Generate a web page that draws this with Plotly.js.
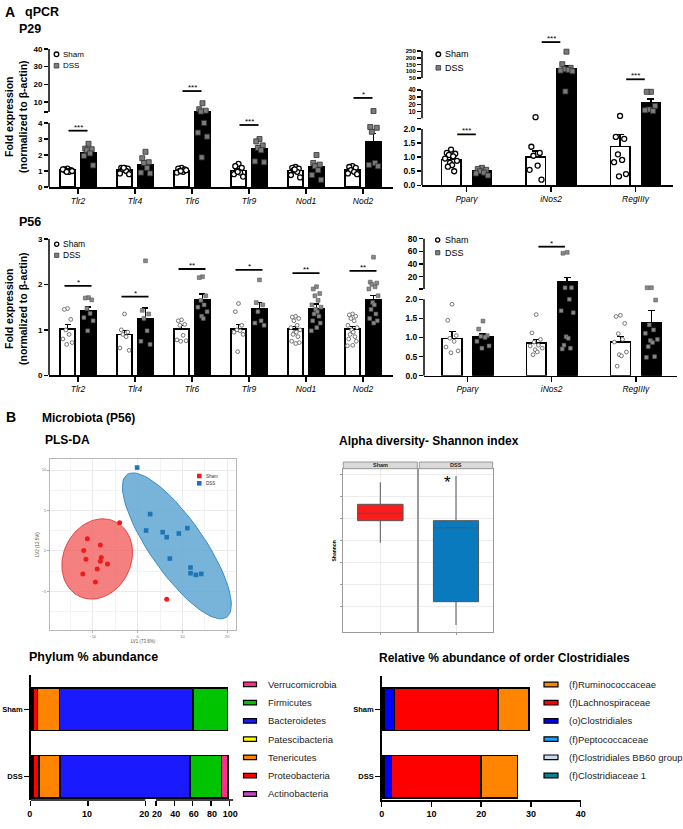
<!DOCTYPE html>
<html><head><meta charset="utf-8">
<script src="https://cdn.plot.ly/plotly-3.0.1.min.js"></script>
<style>html,body{margin:0;padding:0;background:#fff}#chart{width:683px;height:829px}</style>
</head><body><div id="chart"></div>
<script>
// ================= DATA =================
const groups = ['Sham', 'DSS'];
const genesTlr = ['Tlr2', 'Tlr4', 'Tlr6', 'Tlr9', 'Nod1', 'Nod2'];
const genesOther = ['Pparγ', 'iNos2', 'RegIIIγ'];

// P29 - Tlr / Nod
const p29L_shamMean = [1.05, 1.05, 1.04, 1.02, 1.03, 1.05];
const p29L_shamSem  = [0.04, 0.06, 0.03, 0.09, 0.08, 0.07];
const p29L_dssMean  = [2.15, 1.42, 4.5, 2.4, 1.25, 2.85];
const p29L_dssSem   = [0.17, 0.18, 0.85, 0.2, 0.2, 0.48];
const p29L_shamPts = [[1.15,1.1,1.05,1.0,0.95,1.1,1.0,0.95],[1.2,1.2,1.15,1.1,1.0,0.85,0.8,1.2],[1.2,1.15,1.1,1.0,0.95,0.9,1.05,1.0],[1.45,1.3,1.2,1.0,0.9,0.8,0.65,0.95],[1.25,1.2,1.15,1.05,0.95,0.75,0.6,1.1],[1.3,1.25,1.2,1.05,0.95,0.85,0.8]];
const p29L_dssPts  = [[2.7,2.4,2.36,2.3,2.1,1.95,1.35],[2.2,1.8,1.55,1.5,1.2,0.9,0.85],[9.3,5.9,5.1,4.6,4.0,3.4,3.15,1.85],[3.0,2.85,2.6,2.45,2.3,1.6,1.55],[2.0,1.5,1.4,1.3,1.05,0.75,0.45],[4.9,3.75,3.7,3.45,1.5,1.38,1.3]];

// P29 - Ppar / iNos2 / RegIII
const p29R_shamMean = [0.92, 1.0, 1.37];
const p29R_shamSem  = [0.07, 0.22, 0.43];
const p29R_dssMean  = [0.52, 118, 22];
const p29R_dssSem   = [0.03, 22, 5.5];
const p29R_shamPts = [[1.27,1.15,1.12,1.08,1.03,0.95,0.87,0.8,0.72,0.66,0.5],[2.5,1.37,1.15,1.05,0.7,0.55,0.2],[4.1,1.72,1.65,1.1,0.9,0.82,0.4,0.32]];
const p29R_dssPts  = [[0.62,0.58,0.55,0.5,0.45,0.42,0.35],[245,152,125,115,110,105,100,38],[37.5,37.5,18,13,11,12]];

// P56 - Tlr / Nod
const p56L_shamMean = [1.02, 0.9, 1.02, 1.02, 1.02, 1.02];
const p56L_shamSem  = [0.1, 0.09, 0.07, 0.1, 0.05, 0.05];
const p56L_dssMean  = [1.42, 1.25, 1.67, 1.47, 1.46, 1.66];
const p56L_dssSem   = [0.08, 0.23, 0.12, 0.13, 0.11, 0.1];
const p56L_shamPts = [[1.47,1.45,1.23,1.0,0.9,0.8,0.72,0.68],[1.35,1.0,0.95,0.9,0.85,0.6,0.55],[1.22,1.2,1.12,1.1,0.88,0.78,0.76,0.75],[1.58,1.4,1.1,1.0,0.98,0.95,0.9,0.52],[1.3,1.28,1.25,1.2,1.1,1.05,1.0,0.95,0.95,0.9,0.85,0.75,0.72,0.7],[1.35,1.33,1.3,1.25,1.2,1.1,1.05,1.0,0.95,0.9,0.85,0.8,0.75,0.66,0.65]];
const p56L_dssPts  = [[1.71,1.7,1.66,1.47,1.36,1.27,1.2,0.98],[2.52,1.43,1.35,1.25,0.98,0.75,0.68],[2.17,2.15,1.75,1.65,1.55,1.5,1.4,1.3,1.25],[2.1,1.6,1.55,1.4,1.2,1.15,1.1],[1.95,1.9,1.8,1.75,1.65,1.55,1.5,1.45,1.4,1.35,1.3,1.2,1.15,1.05,0.98],[2.6,2.05,2.03,2.0,1.95,1.9,1.75,1.6,1.55,1.45,1.35,1.25,1.2,1.15]];

// P56 - Ppar / iNos2 / RegIII
const p56R_shamMean = [0.98, 0.86, 0.88];
const p56R_shamSem  = [0.18, 0.09, 0.15];
const p56R_dssMean  = [1.02, 12.1, 1.38];
const p56R_dssSem   = [0.07, 7.0, 0.33];
const p56R_shamPts = [[1.87,1.45,1.05,0.98,0.9,0.75,0.65,0.6],[1.6,1.12,0.95,0.88,0.8,0.78,0.72,0.68,0.62,0.55],[1.58,1.55,1.37,1.1,0.95,0.88,0.62,0.55,0.52,0.25]];
const p56R_dssPts  = [[1.43,1.22,1.05,1.03,1.0,0.9,0.78,0.72],[58.5,57,2.6,2.5,2.0,1.7,1.65,1.02,0.98,0.8,0.72,0.7],[2.6,2.55,1.98,1.33,1.2,1.11,0.95,0.92,0.87,0.76,0.5,0.48]];

// significance marks
const sigP29L = {idx:[0,2,3,5], seg:[0,1,0,1], val:[3.52,16.2,3.875,12.3], txt:['***','***','***','*']};
const sigP29R = {idx:[0,1,2], seg:[0,2,2], val:[1.81,316,40.4], txt:['***','***','***']};
const sigP56L = {idx:[0,1,2,3,4,5], seg:[0,0,0,0,0,0], val:[1.97,1.73,2.34,2.32,2.25,2.3], txt:['*','*','**','*','**','**']};
const sigP56R = {idx:[1], seg:[1], val:[67.4], txt:['*']};

// PLS-DA scores
const plsShamX = [-11.2,-12.0,-11.5,-12.2,-8.3,-8.1,-8.3,-6.7,-9.0,-9.4,-4.0,6.5];
const plsShamY = [1.49,0.04,-1.03,-2.85,0.74,-0.83,-1.28,-1.61,-2.23,-3.84,3.47,-5.99];
const plsDssX  = [-0.1,2.8,1.9,5.6,6.5,9.2,11.1,7.2,11.8,11.8,13.0,14.2];
const plsDssY  = [10.3,4.55,2.52,2.31,1.69,2.15,2.81,-0.95,-2.06,-2.77,-2.97,-2.85];
const plsXTicks = [-10, 0, 10, 20];
const plsYTicks = [-5, 0, 5, 10];

// Alpha diversity (Shannon) box statistics: [Sham, DSS]
const shannonLower  = [3.455, 1.584];
const shannonQ1     = [3.955, 2.114];
const shannonMedian = [4.123, 3.795];
const shannonQ3     = [4.327, 3.955];
const shannonUpper  = [4.827, 4.97];

// Phylum % abundance
const phylumNames  = ['Actinobacteria','Proteobacteria','Tenericutes','Patescibacteria','Bacteroidetes','Firmicutes','Verrucomicrobia'];
const phylumColors = ['#c846c8','#ff0000','#ff8400','#ffff00','#1a1aff','#00c400','#ff2d8c'];
const phylumSham   = [0.45, 0.75, 3.8, 0.05, 55.6, 37.2, 0.1];
const phylumDSS    = [0.4, 1.0, 3.7, 0.05, 51.95, 34.5, 6.9];

// Clostridiales % abundance
const clostNames  = ['(f)Clostridiaceae 1','(f)Clostridiales BB60 group','(f)Peptococcaceae','(o)Clostridiales','(f)Lachnospiraceae','(f)Ruminococcaceae'];
const clostColors = ['#0a7f8f','#c6dcf2','#1aa0ff','#0000ff','#ff0000','#ff8400'];
const clostSham   = [0.05, 0.3, 0.1, 2.1, 20.85, 6.2];
const clostDSS    = [0.05, 0.3, 0.1, 1.55, 17.9, 7.36];

// ================= BUILD =================
const W = 683, H = 829;
const FONT = 'Arial, "Liberation Sans", sans-serif';
const dx = (a, b) => [a / W, b / W];
const dy = (top, bot) => [1 - bot / H, 1 - top / H];
const lin = (v1, p1, v2, p2) => { const s = (v2 - v1) / (p2 - p1); return p => v1 + (p - p1) * s; };
const ak = id => id.replace(/^x/, 'xaxis').replace(/^y/, 'yaxis');
const traces = [], shapes = [], ann = [];
const layout = {
  width: W, height: H, margin: {l:0, r:0, t:0, b:0}, showlegend: false,
  paper_bgcolor: '#fff', plot_bgcolor: 'rgba(0,0,0,0)', barmode: 'stack',
  font: {family: FONT, color: '#000'}
};
function txt(s, x, y, font, o) {
  ann.push(Object.assign({text: s, xref: 'paper', yref: 'paper', x: x / W, y: 1 - y / H,
    xanchor: 'left', yanchor: 'middle', showarrow: false, font: Object.assign({family: FONT, color: '#000'}, font)}, o || {}));
}
const JIT = [0,-0.6,0.6,-0.3,0.3,-0.85,0.85,-0.15,0.15,-0.45,0.45,-0.7,0.7,0.05,-0.95,0.95,-0.25,0.25];

function buildQ(c) {
  const fx = lin(0, c.xCal[0], 1, c.xCal[1]);
  layout[ak(c.xa)] = {domain: dx(c.xDom[0], c.xDom[1]), range: [fx(c.xDom[0]), fx(c.xDom[1])], anchor: c.ys[0],
    showline: true, linecolor: '#000', linewidth: 1.5, ticks: 'outside', ticklen: 5, tickwidth: 1.5, tickcolor: '#000',
    tickvals: c.cats.map((_, i) => i), ticktext: c.cats.map(s => '<i>' + s + '</i>'),
    tickfont: {family: FONT, size: 8.5, color: '#000'}, showgrid: false, zeroline: false, fixedrange: true};
  const seg = c.segs.map(s => { const f = lin(s.cal[0], s.cal[1], s.cal[2], s.cal[3]); return {r0: f(s.bot), r1: f(s.top)}; });
  c.segs.forEach((s, k) => {
    const r0 = seg[k].r0, r1 = seg[k].r1;
    const lo = k === 0 ? -Infinity : seg[k - 1].r1;
    const base = k === 0 ? 0 : r0;
    layout[ak(c.ys[k])] = {domain: dy(s.top, s.bot), range: [r0, r1], anchor: c.xa, showline: false,
      ticks: 'outside', ticklen: 4, tickwidth: 1.5, tickcolor: '#000', tickvals: s.tv, ticktext: s.tt,
      tickfont: {family: FONT, size: s.fs, color: '#000', weight: 'bold'}, showgrid: false, zeroline: false, fixedrange: true};
    shapes.push({type: 'line', xref: 'paper', yref: c.ys[k], x0: c.xDom[0] / W, x1: c.xDom[0] / W, y0: s.vis[0], y1: s.vis[1],
      line: {color: '#000', width: 1.5}});
    [[c.sham, -1, '#ffffff'], [c.dss, 1, '#000000']].forEach(([g, sg, col]) => {
      const show = g.mean.map(m => k === 0 || m > lo);
      traces.push({type: 'bar', xaxis: c.xa, yaxis: c.ys[k],
        x: c.cats.map((_, i) => i + sg * c.off), y: g.mean.map((m, i) => show[i] ? m - base : null),
        base: c.cats.map(() => base), width: c.bw,
        marker: {color: col, line: {color: '#000', width: 1.5}},
        error_y: {type: 'data', symmetric: false, array: g.sem.map((e, i) => (show[i] && g.mean[i] <= r1) ? e : NaN),
          arrayminus: g.sem.map(() => 0), color: '#000', thickness: 1.4, width: c.ew},
        hoverinfo: 'skip'});
    });
  });
  [[c.sham.pts, -1, c.shamM], [c.dss.pts, 1, c.dssM]].forEach(([pts, sg, mk]) => {
    const xs = c.segs.map(() => []), yv = c.segs.map(() => []);
    pts.forEach((arr, i) => arr.forEach((v, j) => {
      let k = seg.findIndex(si => v <= si.r1); if (k < 0) k = seg.length - 1;
      xs[k].push(i + sg * c.off + JIT[j % JIT.length] * c.bw * 0.36); yv[k].push(v);
    }));
    c.segs.forEach((s, k) => {
      if (xs[k].length) traces.push({type: 'scatter', mode: 'markers', xaxis: c.xa, yaxis: c.ys[k], x: xs[k], y: yv[k],
        marker: mk, cliponaxis: false, hoverinfo: 'skip'});
    });
  });
  c.sig.idx.forEach((ix, j) => {
    const ya = c.ys[c.sig.seg[j]], v = c.sig.val[j];
    shapes.push({type: 'line', xref: c.xa, yref: ya, x0: ix - c.sigHalf, x1: ix + c.sigHalf, y0: v, y1: v,
      line: {color: '#000', width: 1.8}});
    ann.push({text: c.sig.txt[j], xref: c.xa, yref: ya, x: ix, y: v, xanchor: 'center', yanchor: 'bottom', yshift: -3,
      showarrow: false, font: {family: FONT, size: 8, color: '#000'}});
  });
  // legend keys
  const L = c.leg;
  shapes.push({type: 'circle', xref: 'paper', yref: 'paper', x0: (L.cx - L.d / 2) / W, x1: (L.cx + L.d / 2) / W,
    y0: 1 - (L.cy1 + L.d / 2) / H, y1: 1 - (L.cy1 - L.d / 2) / H, fillcolor: '#fff', line: {color: '#000', width: 1.3}});
  shapes.push({type: 'rect', xref: 'paper', yref: 'paper', x0: (L.cx - L.d / 2) / W, x1: (L.cx + L.d / 2) / W,
    y0: 1 - (L.cy2 + L.d / 2) / H, y1: 1 - (L.cy2 - L.d / 2) / H, fillcolor: '#808080', line: {color: '#333', width: 0.8}});
  txt(groups[0], L.tx, L.cy1, {size: L.fs});
  txt(groups[1], L.tx, L.cy2, {size: L.fs});
}

const mk29s = {symbol: 'circle', size: 5, color: '#fff', line: {color: '#000', width: 1.3}};
const mk29d = {symbol: 'square', size: 5, color: '#7a7a7a', line: {color: '#333', width: 0.8}};
const mk56s = {symbol: 'circle', size: 3.8, color: '#fff', line: {color: '#555', width: 0.8}};
const mk56d = {symbol: 'square', size: 3.8, color: '#8a8a8a', line: {color: '#555', width: 0.6}};

buildQ({xa: 'x', ys: ['y', 'y2'], cats: genesTlr, xDom: [49, 393], xCal: [78, 135], off: 0.184, bw: 0.263, ew: 3,
  segs: [{top: 116, bot: 187, cal: [0, 187, 4, 123], vis: [0, 4], tv: [0, 1, 2, 3, 4], tt: ['0', '1', '2', '3', '4'], fs: 8},
         {top: 45, bot: 116, cal: [10, 102, 40, 49], vis: [4.3, 40], tv: [4.3, 10, 20, 30, 40], tt: ['', '10', '20', '30', '40'], fs: 8}],
  sham: {mean: p29L_shamMean, sem: p29L_shamSem, pts: p29L_shamPts}, dss: {mean: p29L_dssMean, sem: p29L_dssSem, pts: p29L_dssPts},
  shamM: mk29s, dssM: mk29d, sig: sigP29L, sigHalf: 0.167,
  leg: {cx: 56.5, cy1: 54.3, cy2: 65.7, tx: 60.5, d: 4.6, fs: 8}});

buildQ({xa: 'x2', ys: ['y3', 'y4', 'y5'], cats: genesOther, xDom: [422, 673], xCal: [466.5, 551], off: 0.183, bw: 0.23, ew: 3.5,
  segs: [{top: 124, bot: 185.3, cal: [0, 185.3, 2, 129], vis: [0, 2], tv: [0, 0.5, 1, 1.5, 2], tt: ['0.0', '0.5', '1.0', '1.5', '2.0'], fs: 8.5},
         {top: 84, bot: 124, cal: [10, 111.7, 40, 90], vis: [0.87, 40], tv: [0.87, 10, 20, 30, 40], tt: ['', '10', '20', '30', '40'], fs: 6.5},
         {top: 36, bot: 84, cal: [50, 78, 250, 51], vis: [50, 250], tv: [50, 100, 150, 200, 250], tt: ['50', '100', '150', '200', '250'], fs: 6}],
  sham: {mean: p29R_shamMean, sem: p29R_shamSem, pts: p29R_shamPts}, dss: {mean: p29R_dssMean, sem: p29R_dssSem, pts: p29R_dssPts},
  shamM: mk29s, dssM: mk29d, sig: sigP29R, sigHalf: 0.11,
  leg: {cx: 438.3, cy1: 54.3, cy2: 67.8, tx: 442.5, d: 4.6, fs: 9}});

buildQ({xa: 'x3', ys: ['y6'], cats: genesTlr, xDom: [49, 393], xCal: [78, 135], off: 0.184, bw: 0.263, ew: 3,
  segs: [{top: 232, bot: 375.3, cal: [0, 375.3, 3, 239], vis: [0, 3], tv: [0, 1, 2, 3], tt: ['0', '1', '2', '3'], fs: 8}],
  sham: {mean: p56L_shamMean, sem: p56L_shamSem, pts: p56L_shamPts}, dss: {mean: p56L_dssMean, sem: p56L_dssSem, pts: p56L_dssPts},
  shamM: mk56s, dssM: mk56d, sig: sigP56L, sigHalf: 0.237,
  leg: {cx: 56.7, cy1: 244.3, cy2: 255.3, tx: 60.8, d: 4.2, fs: 8.5}});

buildQ({xa: 'x4', ys: ['y7', 'y8'], cats: genesOther, xDom: [424, 677], xCal: [467.5, 551.7], off: 0.184, bw: 0.235, ew: 3.5,
  segs: [{top: 294, bot: 375.7, cal: [0, 375.7, 2, 299.3], vis: [0, 2], tv: [0, 0.5, 1, 1.5, 2], tt: ['0.0', '0.5', '1.0', '1.5', '2.0'], fs: 8.5},
         {top: 232, bot: 294, cal: [20, 276.7, 80, 238.7], vis: [0.6, 80], tv: [0.6, 20, 40, 60, 80], tt: ['', '20', '40', '60', '80'], fs: 8.5}],
  sham: {mean: p56R_shamMean, sem: p56R_shamSem, pts: p56R_shamPts}, dss: {mean: p56R_dssMean, sem: p56R_dssSem, pts: p56R_dssPts},
  shamM: mk56s, dssM: mk56d, sig: sigP56R, sigHalf: 0.157,
  leg: {cx: 437.7, cy1: 240, cy2: 252.7, tx: 442.5, d: 4.2, fs: 9}});

// y titles
[117, 309].forEach(yc => {
  ann.push({text: '<b>Fold expression</b><br><b>(normalized to β-actin)</b>', xref: 'paper', yref: 'paper', x: 16 / W, y: 1 - yc / H,
    xanchor: 'center', yanchor: 'middle', textangle: -90, showarrow: false, font: {family: FONT, size: 10.5, color: '#000'}});
});

// ---------- PLS-DA ----------
(function () {
  const fx = lin(-10, 92.7, 20, 227.3), fy = lin(10, 470, -5, 591.3);
  const ax = {showline: true, mirror: true, linecolor: '#b8b8b8', linewidth: 1, showgrid: true, gridcolor: '#ebebeb', zeroline: false,
    ticks: 'outside', ticklen: 2, tickcolor: '#aaa', tickfont: {family: FONT, size: 4, color: '#777'}, fixedrange: true};
  layout.xaxis5 = Object.assign({}, ax, {domain: dx(50, 236), range: [fx(50), fx(236)], anchor: 'y9', tickvals: plsXTicks,
    minor: {tick0: 0, dtick: 5, showgrid: true, gridcolor: '#f3f3f3'},
    title: {text: 'LV1 (73.6%)', font: {family: FONT, size: 4.5, color: '#555'}, standoff: 2}});
  layout.yaxis9 = Object.assign({}, ax, {domain: dy(459, 630), range: [fy(630), fy(459)], anchor: 'x5', tickvals: plsYTicks,
    minor: {tick0: 0, dtick: 2.5, showgrid: true, gridcolor: '#f3f3f3'},
    title: {text: 'LV2 (12.5%)', font: {family: FONT, size: 4.5, color: '#555'}, standoff: 2}});
  const ellipses = [
    {cx: -9.0, cy: -1.0, ux: 7.85, uy: 0.45, vx: 0.55, vy: 4.94, fill: 'rgba(242,96,96,0.8)', line: '#e84545'},
    {cx: 8.76, cy: 0.62, ux: 11.1, uy: -8.82, vx: -4.91, vy: -1.92, fill: 'rgba(96,166,212,0.85)', line: '#3b8dc2'}
  ];
  ellipses.forEach(e => {
    const xs = [], ys = [];
    for (let t = 0; t <= 72; t++) { const a = t / 72 * 2 * Math.PI; xs.push(e.cx + e.ux * Math.cos(a) + e.vx * Math.sin(a)); ys.push(e.cy + e.uy * Math.cos(a) + e.vy * Math.sin(a)); }
    traces.push({type: 'scatter', mode: 'lines', xaxis: 'x5', yaxis: 'y9', x: xs, y: ys, fill: 'toself', fillcolor: e.fill,
      line: {color: e.line, width: 1}, hoverinfo: 'skip'});
  });
  traces.push({type: 'scatter', mode: 'markers', xaxis: 'x5', yaxis: 'y9', x: plsShamX, y: plsShamY,
    marker: {symbol: 'circle', size: 5, color: '#ee1c1c'}, hoverinfo: 'skip'});
  traces.push({type: 'scatter', mode: 'markers', xaxis: 'x5', yaxis: 'y9', x: plsDssX, y: plsDssY,
    marker: {symbol: 'square', size: 4.6, color: '#1b76b5'}, hoverinfo: 'skip'});
  shapes.push({type: 'rect', xref: 'paper', yref: 'paper', x0: 197 / W, x1: 201.6 / W, y0: 1 - 478.3 / H, y1: 1 - 473.7 / H, fillcolor: '#ee1c1c', line: {width: 0}});
  shapes.push({type: 'rect', xref: 'paper', yref: 'paper', x0: 197 / W, x1: 201.6 / W, y0: 1 - 485.6 / H, y1: 1 - 481 / H, fillcolor: '#1b76b5', line: {width: 0}});
  txt(groups[0], 203.5, 476, {size: 4.5, color: '#333'});
  txt(groups[1], 203.5, 483.3, {size: 4.5, color: '#333'});
})();

// ---------- Alpha diversity ----------
(function () {
  const fy = lin(2.0, 606.7, 5.0, 474.7);
  const yr = [fy(632.3), fy(468.7)];
  const common = {showline: true, mirror: true, linecolor: '#9a9a9a', linewidth: 1, zeroline: false, fixedrange: true,
    showgrid: true, gridcolor: '#ececec'};
  const fills = ['#fb1c1c', '#0a7abf'];
  const doms = [[343.3, 417.3], [419.3, 492.7]];
  const xas = ['x6', 'x7'], yas = ['y10', 'y11'];
  groups.forEach((g, i) => {
    layout[ak(xas[i])] = Object.assign({}, common, {domain: dx(doms[i][0], doms[i][1]), range: [-1, 1], anchor: yas[i],
      tickvals: [0], ticktext: [''], ticks: 'outside', ticklen: 2, tickcolor: '#999'});
    layout[ak(yas[i])] = Object.assign({}, common, {domain: dy(468.7, 632.3), range: yr, anchor: xas[i],
      tickvals: [2, 2.5, 3, 3.5, 4, 4.5, 5], showticklabels: false, ticks: i === 0 ? 'outside' : '', ticklen: 2, tickcolor: '#999'});
    traces.push({type: 'box', xaxis: xas[i], yaxis: yas[i], x: [0], q1: [shannonQ1[i]], median: [shannonMedian[i]], q3: [shannonQ3[i]],
      lowerfence: [shannonLower[i]], upperfence: [shannonUpper[i]], width: 1.23, fillcolor: fills[i],
      line: {color: '#555', width: 1}, whiskerwidth: 0, boxpoints: false, hoverinfo: 'skip'});
    shapes.push({type: 'rect', xref: 'paper', yref: 'paper', x0: doms[i][0] / W, x1: doms[i][1] / W, y0: 1 - 468.7 / H, y1: 1 - 462 / H,
      fillcolor: '#d9d9d9', line: {color: '#9a9a9a', width: 1}});
    ann.push({text: '<b>' + g + '</b>', xref: 'paper', yref: 'paper', x: (doms[i][0] + doms[i][1]) / 2 / W, y: 1 - 465.4 / H,
      xanchor: 'center', yanchor: 'middle', showarrow: false, font: {family: FONT, size: 5.5, color: '#222'}});
  });
  ann.push({text: '<b>Shannon</b>', xref: 'paper', yref: 'paper', x: 333.5 / W, y: 1 - 551 / H, xanchor: 'center', yanchor: 'middle',
    textangle: -90, showarrow: false, font: {family: FONT, size: 5, color: '#000'}});
  ann.push({text: '*', xref: 'paper', yref: 'paper', x: 447.3 / W, y: 1 - 482 / H, xanchor: 'center', yanchor: 'middle',
    showarrow: false, font: {family: FONT, size: 17, color: '#000'}});
})();

// ---------- Stacked bars ----------
function barLegend(names, colors, rx, tx, y0, step) {
  names.forEach((n, i) => {
    const y = y0 + i * step;
    shapes.push({type: 'rect', xref: 'paper', yref: 'paper', x0: rx[0] / W, x1: rx[1] / W, y0: 1 - (y + 2.3) / H, y1: 1 - (y - 2.3) / H,
      fillcolor: colors[i], line: {color: '#000', width: 1.2}});
    txt(n, tx, y, {size: 9.5, color: '#222'});
  });
}
const catAx = {type: 'category', categoryorder: 'array', categoryarray: ['DSS', 'Sham'], showline: true, linecolor: '#000', linewidth: 1.5,
  ticks: 'outside', ticklen: 5, tickwidth: 1.5, tickcolor: '#000', tickfont: {family: FONT, size: 7.5, color: '#000', weight: 'bold'},
  showgrid: false, zeroline: false, fixedrange: true};
const valAx = {showline: false, ticks: 'outside', ticklen: 5, tickwidth: 1.5, tickcolor: '#000',
  tickfont: {family: FONT, size: 9, color: '#000', weight: 'bold'}, showgrid: false, zeroline: false, fixedrange: true};

(function () {
  const f8 = lin(0, 30.7, 20, 145.3), f9 = lin(20, 156, 100, 229.3);
  layout.xaxis8 = Object.assign({}, valAx, {domain: dx(30.7, 151), range: [0, f8(151)], anchor: 'y12', tickvals: [0, 10, 20], ticklabelshift: -1});
  layout.xaxis9 = Object.assign({}, valAx, {domain: dx(151, 233.3), range: [f9(151), f9(233.3)], anchor: 'y12', tickvals: [20, 40, 60, 80, 100], ticklabelshift: 1});
  const fc = lin(0, 776.7, 1, 709.3);
  layout.yaxis12 = Object.assign({}, catAx, {domain: dy(675, 800), range: [fc(800), fc(675)], anchor: 'x8'});
  shapes.push({type: 'line', xref: 'x8', yref: 'paper', x0: 0, x1: 20, y0: 1 - 800 / H, y1: 1 - 800 / H, line: {color: '#000', width: 1.5}});
  shapes.push({type: 'line', xref: 'x9', yref: 'paper', x0: 20, x1: f9(233.3), y0: 1 - 800 / H, y1: 1 - 800 / H, line: {color: '#000', width: 1.5}});
  ['x8', 'x9'].forEach(xa => phylumNames.forEach((n, i) => {
    traces.push({type: 'bar', orientation: 'h', xaxis: xa, yaxis: 'y12', y: groups, x: [phylumSham[i], phylumDSS[i]], width: 0.628,
      marker: {color: phylumColors[i], line: {color: '#000', width: 1.6}}, hoverinfo: 'skip'});
  }));
  barLegend(phylumNames.slice().reverse(), phylumColors.slice().reverse(), [243.5, 256.5], 266, 684.3, 18.28);
})();

(function () {
  layout.xaxis10 = Object.assign({}, valAx, {domain: dx(381.7, 580.7), range: [0, 40], anchor: 'y13', tickvals: [0, 10, 20, 30, 40],
    showline: true, linecolor: '#000', linewidth: 1.5});
  const fc = lin(0, 776.7, 1, 709.3);
  layout.yaxis13 = Object.assign({}, catAx, {domain: dy(676, 800), range: [fc(800), fc(676)], anchor: 'x10'});
  clostNames.forEach((n, i) => {
    traces.push({type: 'bar', orientation: 'h', xaxis: 'x10', yaxis: 'y13', y: groups, x: [clostSham[i], clostDSS[i]], width: 0.628,
      marker: {color: clostColors[i], line: {color: '#000', width: 1.6}}, hoverinfo: 'skip'});
  });
  barLegend(clostNames.slice().reverse(), clostColors.slice().reverse(), [544, 558], 567.3, 684.5, 18.2);
})();

// ---------- Headings ----------
txt('<b>A</b>', 2.5, 12, {size: 14});
txt('<b>qPCR</b>', 23, 12, {size: 12.5});
txt('<b>P29</b>', 16.5, 29, {size: 12.5});
txt('<b>P56</b>', 16.5, 222, {size: 12.5});
txt('<b>B</b>', 3.5, 417, {size: 14});
txt('<b>Microbiota (P56)</b>', 39.5, 418, {size: 12});
txt('<b>PLS-DA</b>', 43, 440, {size: 12});
txt('<b>Alpha diversity- Shannon index</b>', 336.5, 441, {size: 12});
txt('<b>Phylum % abundance</b>', 26.5, 657, {size: 12.5});
txt('<b>Relative % abundance of order Clostridiales</b>', 376.5, 657.5, {size: 12});

layout.shapes = shapes;
layout.annotations = ann;
Plotly.newPlot('chart', traces, layout, {staticPlot: true, displayModeBar: false});
</script>
</body></html>
